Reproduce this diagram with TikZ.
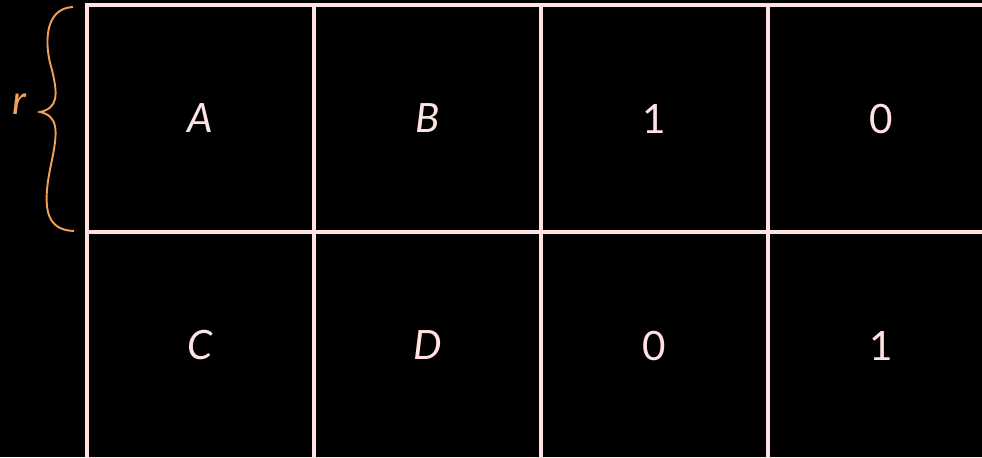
\documentclass[tikz,border=0pt]{standalone}
\usepackage{fontspec}
\setmainfont{Lato}
\usetikzlibrary{positioning}
\definecolor{gridpink}{RGB}{255,226,226}
\definecolor{braceorange}{RGB}{242,160,86}
\tikzset{
  cell/.style={rectangle, draw=gridpink, line width=1.8pt, minimum width=4.54cm,
    minimum height=4.54cm, outer sep=0pt, inner sep=0pt, text=gridpink,
    font=\fontsize{23}{28}\selectfont},
  bracepath/.style={draw=braceorange, line width=1.1pt},
}
\begin{document}
\begin{tikzpicture}[node distance=0pt]
  \fill[black] (0,0) rectangle (19.64,-9.14);
  \useasboundingbox (0,0) rectangle (19.64,-9.14);
  \clip (0,0) rectangle (19.64,-9.14);

  % first row
  \node[cell] (a) at (4.01,-2.37) {\textit{A}};
  \node[cell, right=of a] (b) {\textit{B}};
  \node[cell, right=of b] (one) {1};
  \node[cell, right=of one] (zero) {0};
  % second row
  \node[cell, below=of a] (c) {\textit{C}};
  \node[cell, right=of c] (d) {\textit{D}};
  \node[cell, right=of d] (zerob) {0};
  \node[cell, right=of zerob] (oneb) {1};

  % brace for r
  \node[text=braceorange, font=\fontsize{23}{28}\selectfont\itshape] (rlabel) at (0.38,-2.08) {r};
  \draw[bracepath] (1.46,-0.14) .. controls (0.88,-0.16) and (0.88,-0.9) .. (1.04,-1.4)
    .. controls (1.16,-1.9) and (1.16,-2.16) .. (0.8,-2.24)
    .. controls (1.16,-2.32) and (1.16,-2.6) .. (1.04,-3.2)
    .. controls (0.84,-4.1) and (0.88,-4.6) .. (1.48,-4.62);
\end{tikzpicture}
\end{document}
